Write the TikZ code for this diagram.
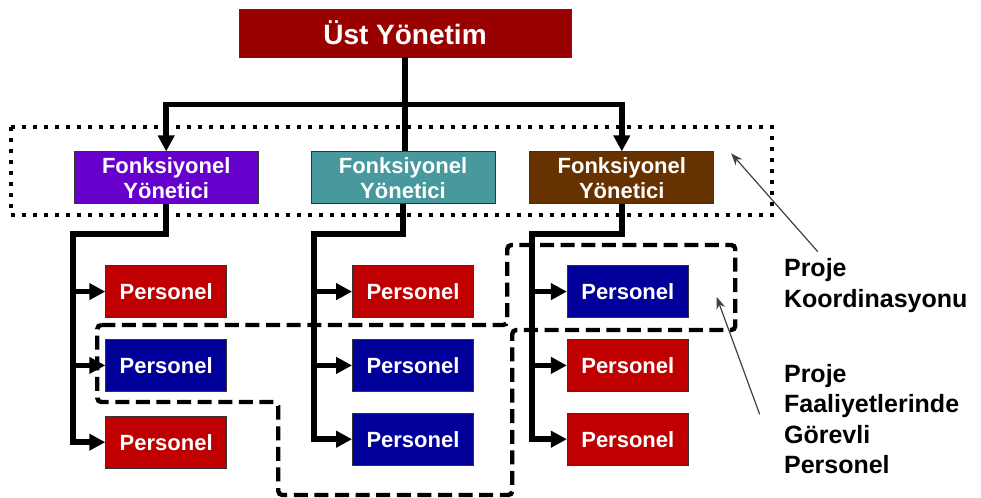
\documentclass[tikz,border=0pt]{standalone}
\usepackage{fontspec}
\setsansfont{Liberation Sans}
\usetikzlibrary{positioning, arrows.meta, calc}

\definecolor{topred}{HTML}{990000}
\definecolor{fypurple}{HTML}{6600CC}
\definecolor{fyteal}{HTML}{47999E}
\definecolor{fybrown}{HTML}{663300}
\definecolor{pred}{HTML}{C00000}
\definecolor{pblue}{HTML}{000099}

\begin{document}
\begin{tikzpicture}[
    x=0.5pt, y=0.5pt,
    % Node styles
    boss/.style={
        rectangle,
        draw=black!80,
        fill=#1,
        text=white,
        minimum width=166pt,
        minimum height=24pt,
        font=\sffamily\bfseries\fontsize{14}{16}\selectfont
    },
    boss/.default=topred,
    manager/.style={
        rectangle,
        draw=black!80,
        fill=#1,
        text=white,
        inner sep=0pt,
        minimum width=92pt,
        minimum height=26pt,
        align=center,
        font=\sffamily\bfseries\fontsize{11}{12.5}\selectfont
    },
    manager/.default=fyteal,
    staff/.style={
        rectangle,
        draw=black!80,
        fill=#1,
        text=white,
        minimum width=60.5pt,
        minimum height=26pt,
        font=\sffamily\bfseries\fontsize{11}{12.5}\selectfont
    },
    staff/.default=pred,
    link/.style={
        line width=2.8pt,
        draw=black
    },
    feed/.style={
        link,
        -{Triangle[length=8pt, width=8pt]}
    },
    callout/.style={
        -{Stealth[length=6pt, width=4.5pt]},
        line width=0.6pt,
        draw=black!75
    },
    coordbox/.style={
        draw=black,
        line width=2pt,
        dash pattern=on 2pt off 3.5pt
    },
    teamline/.style={
        draw=black,
        line width=2.2pt,
        dash pattern=on 7pt off 3.3pt,
        rounded corners=2pt
    },
    note/.style={
        anchor=base west,
        inner sep=0pt,
        align=left,
        font=\sffamily\bfseries\fontsize{12.5}{15.25}\selectfont
    }
]

\useasboundingbox (-405,33) rectangle (576,-465);

% Top management
\node[boss] (ust) at (0,0) {Üst Yönetim};

% Functional managers
\node[manager=fyteal, below=47pt of ust, xshift=-1pt] (fy2) {Fonksiyonel\\Yönetici};
\node[manager=fypurple, left=26pt of fy2] (fy1) {Fonksiyonel\\Yönetici};
\node[manager=fybrown, right=17pt of fy2] (fy3) {Fonksiyonel\\Yönetici};

% Staff, column 1
\node[staff=pred, below=30.5pt of fy1] (p11) {Personel};
\node[staff=pblue, below=10.5pt of p11] (p12) {Personel};
\node[staff=pred, below=12pt of p12] (p13) {Personel};

% Staff, column 2
\node[staff=pred, below=30.5pt of fy2, xshift=5pt] (p21) {Personel};
\node[staff=pblue, below=10.5pt of p21] (p22) {Personel};
\node[staff=pblue, below=10.5pt of p22] (p23) {Personel};

% Staff, column 3
\node[staff=pblue, below=30.5pt of fy3, xshift=3pt] (p31) {Personel};
\node[staff=pred, below=10.5pt of p31] (p32) {Personel};
\node[staff=pred, below=10.5pt of p32] (p33) {Personel};

% Top down to managers
\draw[link] (ust.south) -- (ust.south |- fy2.north);
\draw[feed] (ust.south) -- ++(0,-47) -| (fy1.north);
\draw[feed] (ust.south) -- ++(0,-47) -| (fy3.north);

% Managers to staff
\foreach \col/\off in {1/32, 2/38, 3/35} {
    \foreach \row in {1,2,3} {
        \draw[feed] (fy\col.south) -- ++(0,-30) -| ($(p\col\row.west)+(-\off,0)$) |- (p\col\row.west);
    }
}

% Project coordination (dotted)
\draw[coordbox] ($(fy1.north west)+(-63,24)$) rectangle ($(fy3.south east)+(58,-11)$);

% Project staff (dashed)
\draw[teamline] ($(p12.north west)+(-8,14)$) -- ++(410,0) -- ++(0,80) -- ++(228,0)
    -- ++(0,-85) -- ++(-223,0) -- ++(0,-165) -- ++(-234,0) -- ++(0,93) -- ++(-181,0) -- cycle;

% Labels on the right (base = last line)
\node[note] (koord) at ($(p31.east)+(95,-15.5)$) {Proje\\Koordinasyonu};
\node[note] (gorev) at ($(p32.east)+(95,-108.5)$) {Proje\\Faaliyetlerinde\\Görevli\\Personel};

\coordinate (kooTip) at ($(fy3.north east)+(17,-2)$);
\coordinate (kooTail) at ($(koord.base west)+(34,55.5)$);
\coordinate (gorTip) at ($(p31.south east)+(28,21)$);
\coordinate (gorTail) at ($(gorev.base west)+(-24,59.5)$);

\draw[callout] (kooTail) -- (kooTip);
\draw[callout] (gorTail) -- (gorTip);

\end{tikzpicture}
\end{document}
